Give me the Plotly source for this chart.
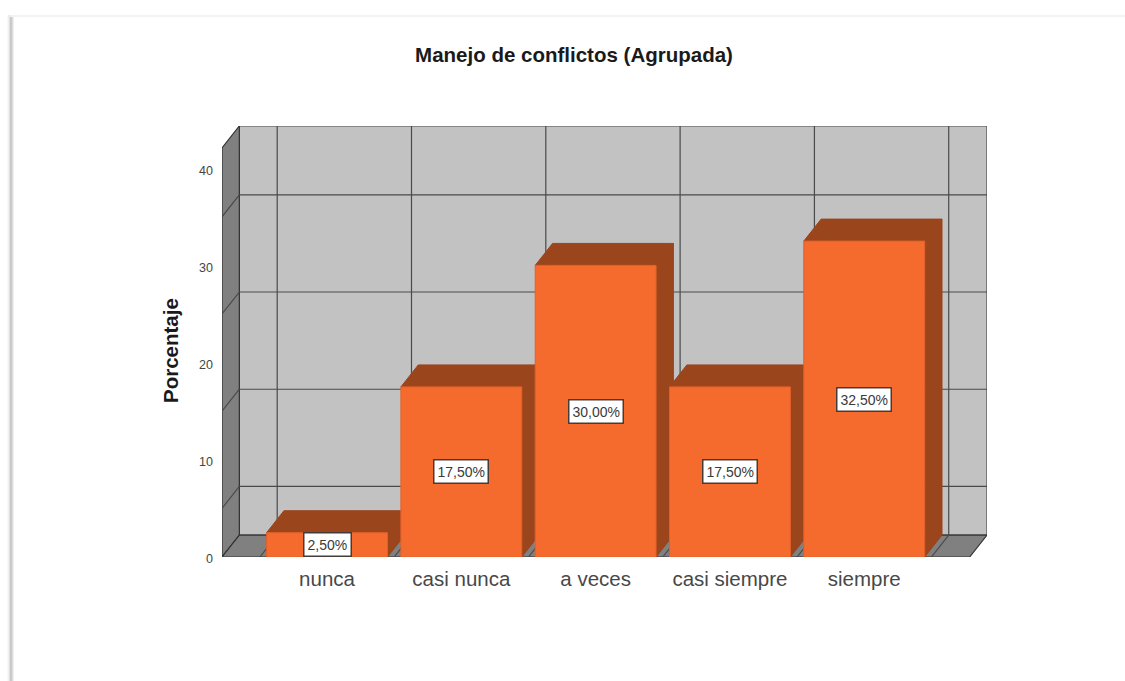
"""Bar chart with the boxed pseudo-3D look: Manejo de conflictos (Agrupada)."""
import plotly.graph_objects as go

CATEGORIES = ["nunca", "casi nunca", "a veces", "casi siempre", "siempre"]
PERCENTAGES = [2.5, 17.5, 30.0, 17.5, 32.5]
BAR_LABELS = ["2,50%", "17,50%", "30,00%", "17,50%", "32,50%"]
Y_TICKS = [0, 10, 20, 30, 40]
WALL_GRID = [5, 15, 25, 35]

FONT = "Liberation Sans, Arial, sans-serif"
ORANGE = "#F56B2E"
BROWN = "#9A451C"
WALL = "#C2C2C2"
DARK_WALL = "#808080"
LINE = "#4a4a4a"

# Box extents in axis units; the depth offset gives the 3D look.
X_MIN, X_MAX = -0.782, 4.914
Y_MAX = 44.34
DEPTH_X, DEPTH_Y = 0.129, 2.26
BAR_WIDTH = 0.9

# Plot area in page pixels.
LEFT, RIGHT, TOP, BOTTOM = 222, 987, 126, 557


def poly(points, fill, line_color=None, line_width=1):
    path = "M " + " L ".join(f"{x},{y}" for x, y in points) + " Z"
    return dict(
        type="path", path=path, xref="x", yref="y", layer="below", fillcolor=fill,
        line=dict(color=line_color or fill, width=line_width),
    )


def segment(x0, y0, x1, y1, width=1.2):
    return dict(
        type="line", x0=x0, y0=y0, x1=x1, y1=y1, xref="x", yref="y", layer="below",
        line=dict(color=LINE, width=width),
    )


def page_rect(x0, y0, x1, y1, color):
    # Sheet shadow, given in page pixels.
    w, h = RIGHT - LEFT, BOTTOM - TOP
    return dict(
        type="rect", xref="paper", yref="paper", layer="below",
        x0=(x0 - LEFT) / w, x1=(x1 - LEFT) / w,
        y0=(BOTTOM - y0) / h, y1=(BOTTOM - y1) / h,
        fillcolor=color, line=dict(width=0),
    )


shapes = [
    page_rect(7, 15, 8, 681, "#f8f8f8"),
    page_rect(8, 15, 9, 681, "#f0f0f0"),
    page_rect(9, 15, 10, 681, "#e2e2e2"),
    page_rect(10, 15, 11, 681, "#c8c8c8"),
    page_rect(11, 15, 12, 681, "#cccccc"),
    page_rect(12, 15, 13, 681, "#dcdcdc"),
    page_rect(13, 15, 14, 681, "#f0f0f0"),
    page_rect(10, 15, 1125, 17, "#f3f3f3"),
    # back wall, left wall, floor
    poly([(X_MIN + DEPTH_X, DEPTH_Y), (X_MAX, DEPTH_Y), (X_MAX, Y_MAX), (X_MIN + DEPTH_X, Y_MAX)], WALL, LINE, 1.2),
    poly([(X_MIN, 0), (X_MIN + DEPTH_X, DEPTH_Y), (X_MIN + DEPTH_X, Y_MAX), (X_MIN, Y_MAX - DEPTH_Y)], DARK_WALL, "#333333", 1.2),
    poly([(X_MIN, 0), (X_MAX - DEPTH_X, 0), (X_MAX, DEPTH_Y), (X_MIN + DEPTH_X, DEPTH_Y)], DARK_WALL, "#333333", 1.2),
]
for level in WALL_GRID:
    shapes.append(segment(X_MIN, level, X_MIN + DEPTH_X, level + DEPTH_Y))
    shapes.append(segment(X_MIN + DEPTH_X, level + DEPTH_Y, X_MAX, level + DEPTH_Y))
for i in range(len(CATEGORIES) + 1):
    edge = i - 0.5
    shapes.append(segment(edge, 0, edge + DEPTH_X, DEPTH_Y))
    shapes.append(segment(edge + DEPTH_X, DEPTH_Y, edge + DEPTH_X, Y_MAX))

# Side and top faces of each bar, the front comes from the bar trace.
for i, value in enumerate(PERCENTAGES):
    x0, x1 = i - BAR_WIDTH / 2, i + BAR_WIDTH / 2
    shapes.append(poly([(x1, 0), (x1 + DEPTH_X, DEPTH_Y), (x1 + DEPTH_X, value + DEPTH_Y), (x1, value)], BROWN))
    shapes.append(poly([(x0, value), (x0 + DEPTH_X, value + DEPTH_Y), (x1 + DEPTH_X, value + DEPTH_Y), (x1, value)], BROWN))

fig = go.Figure(
    go.Bar(
        x=list(range(len(CATEGORIES))),
        y=PERCENTAGES,
        width=BAR_WIDTH,
        marker=dict(color=ORANGE, line=dict(color="#E0602A", width=1)),
        showlegend=False,
    )
)

annotations = [
    dict(
        x=i, y=value / 2, xref="x", yref="y", text=label, showarrow=False,
        font=dict(family=FONT, size=14, color="#3a3a3a"),
        bgcolor="white", bordercolor="#443c38", borderwidth=1.5, borderpad=3,
    )
    for i, (value, label) in enumerate(zip(PERCENTAGES, BAR_LABELS))
]
# Axis title sits lower than the plot centre, so it is placed by hand.
annotations.append(
    dict(
        text="<b>Porcentaje</b>", textangle=-90, showarrow=False,
        xref="paper", yref="paper", xanchor="center", yanchor="middle",
        x=(170 - LEFT) / (RIGHT - LEFT), y=(BOTTOM - 351) / (BOTTOM - TOP),
        font=dict(family=FONT, size=20.5, color="#1a1a1a"),
    )
)

fig.update_layout(
    width=1125,
    height=681,
    margin=dict(l=LEFT, r=1125 - RIGHT, t=TOP, b=681 - BOTTOM),
    paper_bgcolor="white",
    plot_bgcolor="white",
    font=dict(family=FONT),
    title=dict(
        text="<b>Manejo de conflictos (Agrupada)</b>",
        x=574 / 1125, xanchor="center", y=1 - 55 / 681, yanchor="middle",
        font=dict(size=20.5, color="#1a1a1a"),
    ),
    xaxis=dict(
        range=[X_MIN, X_MAX],
        tickmode="array",
        tickvals=list(range(len(CATEGORIES))),
        ticktext=CATEGORIES,
        tickfont=dict(size=20.5, color="#484848"),
        ticks="",
        ticklabelstandoff=7,
        showgrid=False,
        zeroline=False,
        showline=False,
    ),
    yaxis=dict(
        range=[0, Y_MAX],
        tickmode="array",
        tickvals=Y_TICKS,
        tickfont=dict(size=12.5, color="#444444"),
        ticks="",
        ticklabelstandoff=8,
        ticklabelshift=2,
        showgrid=False,
        zeroline=False,
        showline=False,
    ),
    shapes=shapes,
    annotations=annotations,
)

fig.write_html(
    "out.html",
    config=dict(displayModeBar=False),
    post_script="document.body.style.margin='0';document.documentElement.style.overflow='hidden';",
)
